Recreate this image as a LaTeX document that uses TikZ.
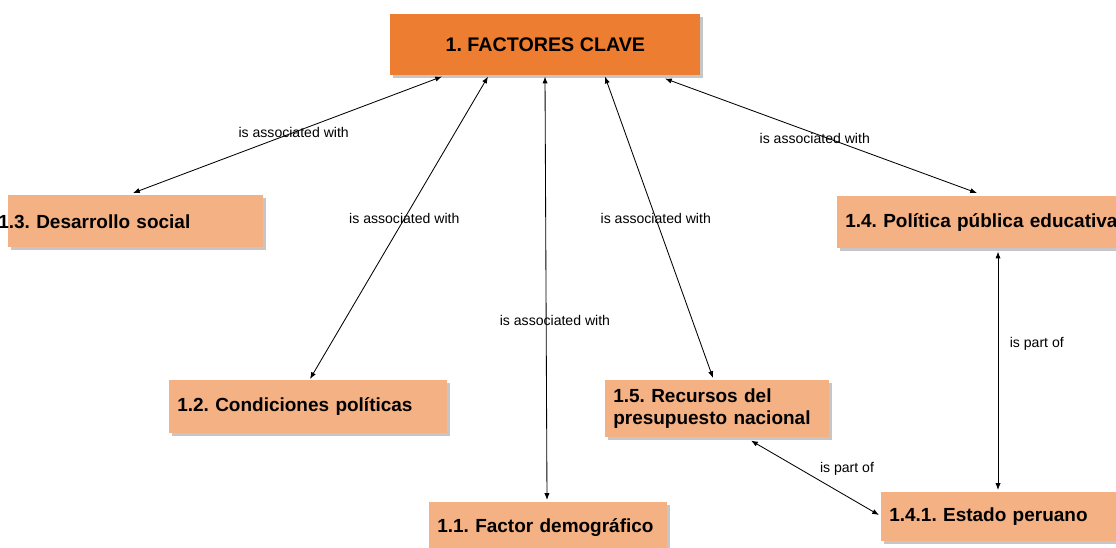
\documentclass[tikz,border=0pt]{standalone}
\usepackage{fontspec}
\setmainfont{Liberation Sans}
\usetikzlibrary{calc,arrows.meta,shadows}
\definecolor{KeyOrange}{RGB}{237,125,49}
\definecolor{SoftOrange}{RGB}{244,177,131}
\frenchspacing

\begin{document}
\begin{tikzpicture}[
    x=0.025cm, y=-0.025cm,
    >={Latex[length=1.7mm,width=1.3mm]},
    concept/.style={
        fill=SoftOrange,
        anchor=north west,
        align=left,
        inner xsep=0.2cm,
        font=\bfseries\fontsize{13.5}{15.4}\selectfont,
        drop shadow={shadow xshift=0.7mm, shadow yshift=-0.7mm,
                     fill=black!50, opacity=0.45}
    },
    link/.style={
        <->,
        line width=0.6pt,
        draw=black
    },
    relation/.style={
        font=\fontsize{10}{12}\selectfont,
        inner sep=1pt
    }
]
\useasboundingbox (0,0) rectangle (1116,547);

\node[concept, fill=KeyOrange, align=center, minimum width=7.75cm,
      minimum height=1.525cm, font=\bfseries\fontsize{14}{16}\selectfont]
    (key) at (390,14) {1. FACTORES CLAVE};

\node[concept, text width=5.975cm, minimum height=1.3cm] (social) at (8,195)
    {\hspace*{-0.45cm}1.3. Desarrollo social};
\node[concept, text width=7.6cm, minimum height=1.3cm] (policy) at (837,196)
    {1.4. Política pública educativa};
\node[concept, text width=6.55cm, minimum height=1.325cm] (political) at (169,380)
    {1.2. Condiciones políticas};
\node[concept, text width=5.2cm, minimum height=1.425cm] (budget) at (605,380)
    {1.5. Recursos del\\presupuesto nacional};
\node[concept, text width=5.55cm, minimum height=1.25cm] (demog) at (429,502)
    {1.1. Factor demográfico};
\node[concept, text width=5.575cm, minimum height=1.225cm] (state) at (881,492)
    {1.4.1. Estado peruano};

% links from the key factors
\draw[link] ($(key.south west)+(52,1)$) -- ($(social.north west)+(125,-2)$)
    node[relation, pos=0.48] {is associated with};
\draw[link] ($(key.south west)+(98,1)$) -- ($(political.north west)+(141,-1)$)
    node[relation, pos=0.47] {is associated with};
\draw[link] ($(key.south west)+(155,1)$) -- ($(demog.north west)+(118,-2)$)
    node[relation, pos=0.575, xshift=0.22cm] {is associated with};
\draw[link] ($(key.south west)+(215,1)$) -- ($(budget.north west)+(108,-2)$)
    node[relation, pos=0.47] {is associated with};
\draw[link] ($(key.south west)+(275,3)$) -- ($(policy.north west)+(140,-3)$)
    node[relation, pos=0.48, yshift=-0.12cm] {is associated with};

% parts
\draw[link] ($(policy.south west)+(161,3)$) -- ($(state.north west)+(117,-2)$)
    node[relation, pos=0.385, anchor=west, xshift=0.25cm] {is part of};
\draw[link] ($(budget.south west)+(146,3)$) -- ($(state.north west)+(-2,23)$)
    node[relation, pos=0.75, yshift=0.7cm] {is part of};

\end{tikzpicture}
\end{document}
